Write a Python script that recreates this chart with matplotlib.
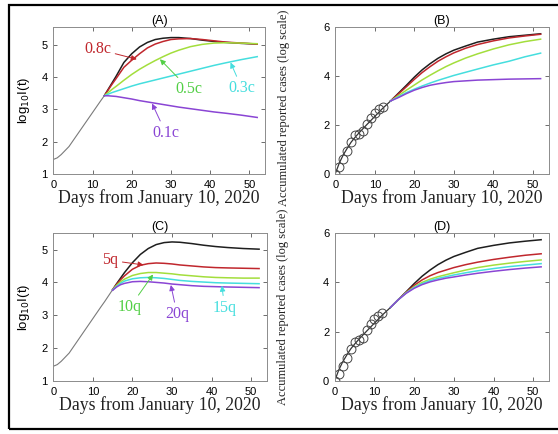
import matplotlib
matplotlib.use('Agg')
import matplotlib.pyplot as plt
import matplotlib.patches as patches
import numpy as np

# shared early part of I(t), panels A and C
t_early = [0, 1, 2, 4, 6, 8, 10, 12, 13, 14, 15]
logI_early = [1.45, 1.5, 1.6, 1.85, 2.2, 2.55, 2.9, 3.25, 3.42, 3.6, 3.78]

# panel A: contact rate scaled (branch at day 13)
t_a = [13, 14, 15, 16, 18, 20, 22, 24, 26, 28, 30, 32, 35, 38, 41, 44, 48, 52]
a_base = [3.42, 3.62, 3.82, 4.02, 4.45, 4.72, 4.93, 5.07, 5.16, 5.2, 5.22, 5.22, 5.19, 5.14, 5.1, 5.07, 5.04, 5.02]
a_08c = [3.42, 3.6, 3.78, 3.95, 4.3, 4.52, 4.72, 4.9, 5.02, 5.1, 5.16, 5.18, 5.19, 5.16, 5.12, 5.08, 5.05, 5.02]
a_05c = [3.42, 3.52, 3.62, 3.71, 3.9, 4.08, 4.24, 4.38, 4.51, 4.63, 4.74, 4.83, 4.94, 5.01, 5.05, 5.06, 5.05, 5.03]
a_03c = [3.42, 3.47, 3.52, 3.56, 3.64, 3.72, 3.79, 3.85, 3.91, 3.97, 4.03, 4.09, 4.18, 4.27, 4.36, 4.44, 4.54, 4.63]
a_01c = [3.42, 3.42, 3.41, 3.4, 3.36, 3.32, 3.27, 3.23, 3.19, 3.15, 3.11, 3.07, 3.02, 2.97, 2.92, 2.88, 2.82, 2.75]

# panel C: quarantine rate scaled (branch at day 15)
t_c = [15, 16, 17, 18, 20, 22, 24, 26, 28, 30, 32, 35, 38, 41, 44, 48, 52]
c_base = [3.78, 3.96, 4.13, 4.3, 4.6, 4.85, 5.03, 5.15, 5.21, 5.23, 5.22, 5.18, 5.13, 5.09, 5.06, 5.03, 5.01]
c_5q = [3.78, 3.94, 4.08, 4.2, 4.4, 4.52, 4.57, 4.59, 4.58, 4.56, 4.53, 4.5, 4.47, 4.45, 4.44, 4.43, 4.42]
c_10q = [3.78, 3.91, 4.02, 4.1, 4.21, 4.27, 4.3, 4.3, 4.28, 4.26, 4.23, 4.2, 4.17, 4.15, 4.14, 4.13, 4.13]
c_15q = [3.77, 3.88, 3.97, 4.04, 4.11, 4.14, 4.15, 4.14, 4.12, 4.09, 4.06, 4.03, 4.01, 3.99, 3.98, 3.97, 3.96]
c_20q = [3.76, 3.86, 3.93, 3.97, 4.02, 4.03, 4.02, 4.0, 3.98, 3.95, 3.93, 3.9, 3.88, 3.87, 3.86, 3.85, 3.84]

# reported cases (log scale), days 0..12
obs_days = [0, 1, 2, 3, 4, 5, 6, 7, 8, 9, 10, 11, 12]
obs_cases = [0, 0.3, 0.6, 0.95, 1.3, 1.6, 1.65, 1.75, 2.05, 2.3, 2.5, 2.65, 2.75]

t_acc_early = [0, 1, 2, 3, 4, 5, 6, 8, 10, 12, 14]
acc_early = [0.02, 0.45, 0.78, 1.05, 1.3, 1.5, 1.68, 2.02, 2.35, 2.68, 2.98]

t_acc = [14, 16, 18, 20, 22, 24, 26, 28, 30, 33, 36, 40, 44, 48, 52]
b_base = [2.98, 3.3, 3.62, 3.95, 4.25, 4.5, 4.72, 4.9, 5.05, 5.22, 5.38, 5.5, 5.6, 5.66, 5.72]
b_08c = [2.98, 3.27, 3.56, 3.86, 4.14, 4.38, 4.6, 4.78, 4.94, 5.13, 5.28, 5.43, 5.55, 5.63, 5.7]
b_05c = [2.98, 3.2, 3.42, 3.63, 3.84, 4.03, 4.21, 4.38, 4.53, 4.73, 4.9, 5.1, 5.27, 5.4, 5.5]
b_03c = [2.98, 3.15, 3.32, 3.46, 3.59, 3.71, 3.82, 3.92, 4.02, 4.15, 4.28, 4.45, 4.6, 4.78, 4.93]
b_01c = [2.98, 3.12, 3.28, 3.42, 3.53, 3.62, 3.68, 3.73, 3.77, 3.8, 3.83, 3.85, 3.87, 3.88, 3.89]

d_base = [2.98, 3.3, 3.62, 3.95, 4.25, 4.5, 4.72, 4.9, 5.05, 5.22, 5.38, 5.5, 5.6, 5.67, 5.73]
d_5q = [2.98, 3.3, 3.6, 3.88, 4.1, 4.27, 4.4, 4.5, 4.6, 4.72, 4.82, 4.93, 5.02, 5.1, 5.16]
d_10q = [2.98, 3.3, 3.58, 3.82, 4.0, 4.13, 4.23, 4.31, 4.39, 4.5, 4.6, 4.7, 4.78, 4.85, 4.91]
d_15q = [2.98, 3.3, 3.57, 3.79, 3.95, 4.07, 4.16, 4.23, 4.3, 4.39, 4.47, 4.56, 4.64, 4.7, 4.76]
d_20q = [2.98, 3.3, 3.56, 3.76, 3.91, 4.02, 4.1, 4.17, 4.22, 4.3, 4.37, 4.45, 4.52, 4.58, 4.63]

col_k = '#1e1e1e'
col_r = '#c0272d'
col_g = '#a3de3c'
col_c = '#45dede'
col_p = '#8a45d4'
col_gray = '#7a7a7a'
lab_g = '#52cf45'

serif = ['Liberation Serif', 'DejaVu Serif']
sans = ['Liberation Sans', 'DejaVu Sans']

fig = plt.figure(figsize=(5.58, 4.34), dpi=100)
axA = fig.add_axes([0.0955, 0.599, 0.3795, 0.339])
axB = fig.add_axes([0.601, 0.599, 0.382, 0.339])
axC = fig.add_axes([0.0955, 0.122, 0.383, 0.341])
axD = fig.add_axes([0.600, 0.122, 0.384, 0.341])


def style_ax(ax, title, ylim, yticks):
    ax.set_xlim(0, 54)
    ax.set_ylim(*ylim)
    ax.set_xticks([0, 10, 20, 30, 40, 50])
    ax.set_yticks(yticks)
    ax.tick_params(direction='in', top=True, right=True, length=3, width=0.6,
                   color='#555555', labelsize=8, pad=4)
    for lab in ax.get_xticklabels() + ax.get_yticklabels():
        lab.set_family(sans)
    for s in ax.spines.values():
        s.set_color('#8c8c8c')
        s.set_linewidth(0.7)
    ax.set_title(title, fontsize=9, family=sans, pad=2)
    ax.set_xlabel('Days from January 10, 2020', fontsize=12.8, family=serif, labelpad=0, color='#222222')


def label(ax, txt, color, xytext, xy):
    ax.annotate(txt, xy=xy, xytext=xytext, color=color, fontsize=11.5, family=serif,
                ha='center', va='center',
                arrowprops=dict(arrowstyle='-|>', color=color, lw=0.7, mutation_scale=8,
                                shrinkA=1, shrinkB=0))


# (A)
axA.plot(t_early[:9], logI_early[:9], color=col_gray, lw=0.8)
for y, c in [(a_base, col_k), (a_08c, col_r), (a_05c, col_g), (a_03c, col_c), (a_01c, col_p)]:
    axA.plot(t_a, y, color=c, lw=1.1)
style_ax(axA, '(A)', (1, 5.55), [1, 2, 3, 4, 5])
axA.set_ylabel('log$_{10}$I(t)', fontsize=9.5, family=sans, labelpad=7)
label(axA, '0.8c', col_r, (11.3, 4.86), (21.3, 4.55))
label(axA, '0.5c', lab_g, (34.7, 3.62), (27.2, 4.55))
label(axA, '0.3c', col_c, (48.1, 3.65), (45.2, 4.45))
label(axA, '0.1c', col_p, (28.7, 2.27), (25.2, 3.18))

# (C)
axC.plot(t_early, logI_early, color=col_gray, lw=0.8)
for y, c in [(c_base, col_k), (c_5q, col_r), (c_10q, col_g), (c_15q, col_c), (c_20q, col_p)]:
    axC.plot(t_c, y, color=c, lw=1.1)
style_ax(axC, '(C)', (1, 5.5), [1, 2, 3, 4, 5])
axC.set_ylabel('log$_{10}$I(t)', fontsize=9.5, family=sans, labelpad=7)
label(axC, '5q', col_r, (14.4, 4.67), (22.8, 4.53))
label(axC, '10q', lab_g, (19.4, 3.25), (25.2, 4.24))
label(axC, '20q', col_p, (31.3, 3.03), (29.7, 3.92))
label(axC, '15q', col_c, (43.3, 3.23), (42.6, 3.9))

# (B) and (D)
for ax, series, title, ly in [(axB, [b_base, b_08c, b_05c, b_03c, b_01c], '(B)', 0.45),
                              (axD, [d_base, d_5q, d_10q, d_15q, d_20q], '(D)', 0.5)]:
    ax.plot(t_acc_early, acc_early, color='#333333', lw=0.9)
    for y, c in zip(series, [col_k, col_r, col_g, col_c, col_p]):
        ax.plot(t_acc, y, color=c, lw=1.1)
    ax.plot(obs_days, obs_cases, 'o', mfc='none', mec='#444444', ms=6.4, mew=0.7)
    style_ax(ax, title, (0, 6), [0, 2, 4, 6])
    ax.set_ylabel('Accumulated reported cases (log scale)', fontsize=9, family=serif,
                  color='#222222')
    ax.yaxis.set_label_coords(-0.215, ly)

fig.patches.append(patches.Rectangle((0.016, 0.0115), 1.0, 0.977, transform=fig.transFigure,
                                     fill=False, lw=1.6, edgecolor='black', clip_on=False))

fig.savefig('out.png', dpi=100)
